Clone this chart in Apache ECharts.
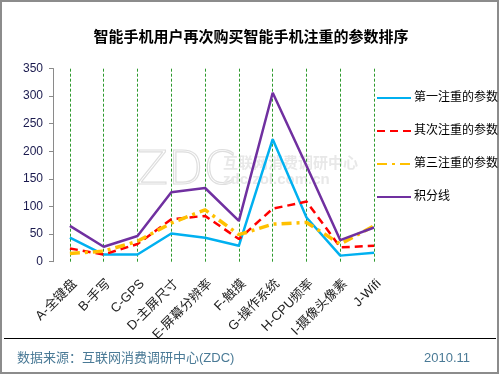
<!DOCTYPE html>
<html>
<head>
<meta charset="utf-8">
<script src="https://cdn.jsdelivr.net/npm/echarts@6/dist/echarts.min.js"></script>
<style>
html,body{margin:0;padding:0;background:#fff;}
#chart{width:500px;height:375px;}
</style>
</head>
<body>
<div id="chart"></div>
<script>
const titleText = '智能手机用户再次购买智能手机注重的参数排序';
const categories = ['A-全键盘','B-手写','C-GPS','D-主屏尺寸','E-屏幕分辨率','F-触摸','G-操作系统','H-CPU频率','I-摄像头像素','J-Wifi'];
const seriesNames = ['第一注重的参数','其次注重的参数','第三注重的参数','积分线'];
const firstValues  = [43.5, 13, 13, 51, 43.5, 29, 222, 80, 11, 16];
const secondValues = [24, 13, 32, 77, 83, 41, 96, 109, 26, 29];
const thirdValues  = [15, 19, 37, 70, 94, 49, 68, 71, 32, 65];
const scoreValues  = [65, 27, 46.5, 126, 133.5, 74, 306, 174, 39, 62];
const yTicks = { min: 0, max: 350, interval: 50 };
const sourceText = '数据来源：互联网消费调研中心(ZDC)';
const dateText = '2010.11';

const chart = echarts.init(document.getElementById('chart'), null, {renderer: 'canvas'});
const font = 'Arial, "Liberation Sans", "Noto Sans CJK SC", sans-serif';

function lineSeries(name, data, color, type, width) {
  return {
    name: name, type: 'line', data: data, symbol: 'none', showSymbol: false, z: 3,
    lineStyle: { color: color, width: width, type: type },
    itemStyle: { color: color }
  };
}

const series = [
  lineSeries(seriesNames[0], firstValues, '#00b0f0', 'solid', 2.5),
  lineSeries(seriesNames[1], secondValues, '#ff0000', [8, 5], 2.5),
  lineSeries(seriesNames[2], thirdValues, '#ffc000', [10, 5, 3, 5], 3.5),
  lineSeries(seriesNames[3], scoreValues, '#7030a0', 'solid', 2.5)
];
series[0].markLine = {
  silent: true, symbol: ['none', 'none'], z: 1,
  label: { show: false },
  lineStyle: { color: '#2e9a2e', type: [3, 2], width: 1 },
  data: categories.map(c => ({ xAxis: c }))
};

chart.setOption({
  animation: false,
  backgroundColor: '#fff',
  title: {
    text: titleText, left: 246, top: 24, textAlign: 'center',
    textStyle: { fontFamily: '"Noto Sans CJK SC", sans-serif', fontSize: 15, fontWeight: 'bold', color: '#000' }
  },
  legend: {
    orient: 'vertical', left: 376, top: 92, padding: 0, itemWidth: 34, itemHeight: 14, itemGap: 21,
    data: seriesNames,
    itemStyle: { color: 'rgba(0,0,0,0)', borderColor: 'rgba(0,0,0,0)', borderWidth: 0 },
    textStyle: { fontFamily: font, fontSize: 12, color: '#000', padding: [0, 0, 0, -2] }
  },
  grid: { left: 53, right: 109, top: 68.5, bottom: 113.3, containLabel: false },
  xAxis: {
    type: 'category', data: categories, boundaryGap: true,
    axisLine: { show: false }, axisTick: { show: false },
    splitLine: { show: false },
    axisLabel: { rotate: 45, margin: 25, interval: 0, padding: [0, -7, 0, 0], fontFamily: font, fontSize: 13, color: '#222' }
  },
  yAxis: {
    type: 'value', min: yTicks.min, max: yTicks.max, interval: yTicks.interval,
    axisLine: { show: true, lineStyle: { color: '#8a8a8a', width: 1 } },
    axisTick: { show: true, length: 4, lineStyle: { color: '#8a8a8a' } },
    splitLine: { show: false },
    axisLabel: { margin: 10, fontFamily: font, fontSize: 12, color: '#1a1a4e' }
  },
  graphic: [
    { type: 'rect', z: -10, silent: true, shape: { x: 1, y: 1, width: 497, height: 372 },
      style: { fill: 'none', stroke: '#8c8c8c', lineWidth: 2 } },
    { type: 'text', z: -5, silent: true, left: 136, top: 148,
      style: { text: 'ZDC', font: '300 46px "DejaVu Sans", sans-serif', fill: 'rgba(0,0,0,0)', stroke: '#dedede', lineWidth: 1.2 } },
    { type: 'text', z: -5, silent: true, left: 223, top: 155,
      style: { text: '互联网消费调研中心', font: 'bold 15px "Noto Sans CJK SC", sans-serif', fill: '#e8e8e8' } },
    { type: 'text', z: -5, silent: true, left: 223, top: 172,
      style: { text: 'zdc.zol.com.cn', font: 'bold 15px Arial, sans-serif', fill: '#e8e8e8' } },
    { type: 'line', silent: true, shape: { x1: 4, y1: 338.5, x2: 496, y2: 338.5 },
      style: { stroke: '#000', lineWidth: 1 } },
    { type: 'text', silent: true, left: 17, top: 352,
      style: { text: sourceText, font: '13px Arial, "Noto Sans CJK SC", sans-serif', fill: '#4a7a96' } },
    { type: 'text', silent: true, left: 424, top: 352,
      style: { text: dateText, font: '13px Arial, sans-serif', fill: '#4a7a96' } }
  ],
  series: series
});
</script>
</body>
</html>
